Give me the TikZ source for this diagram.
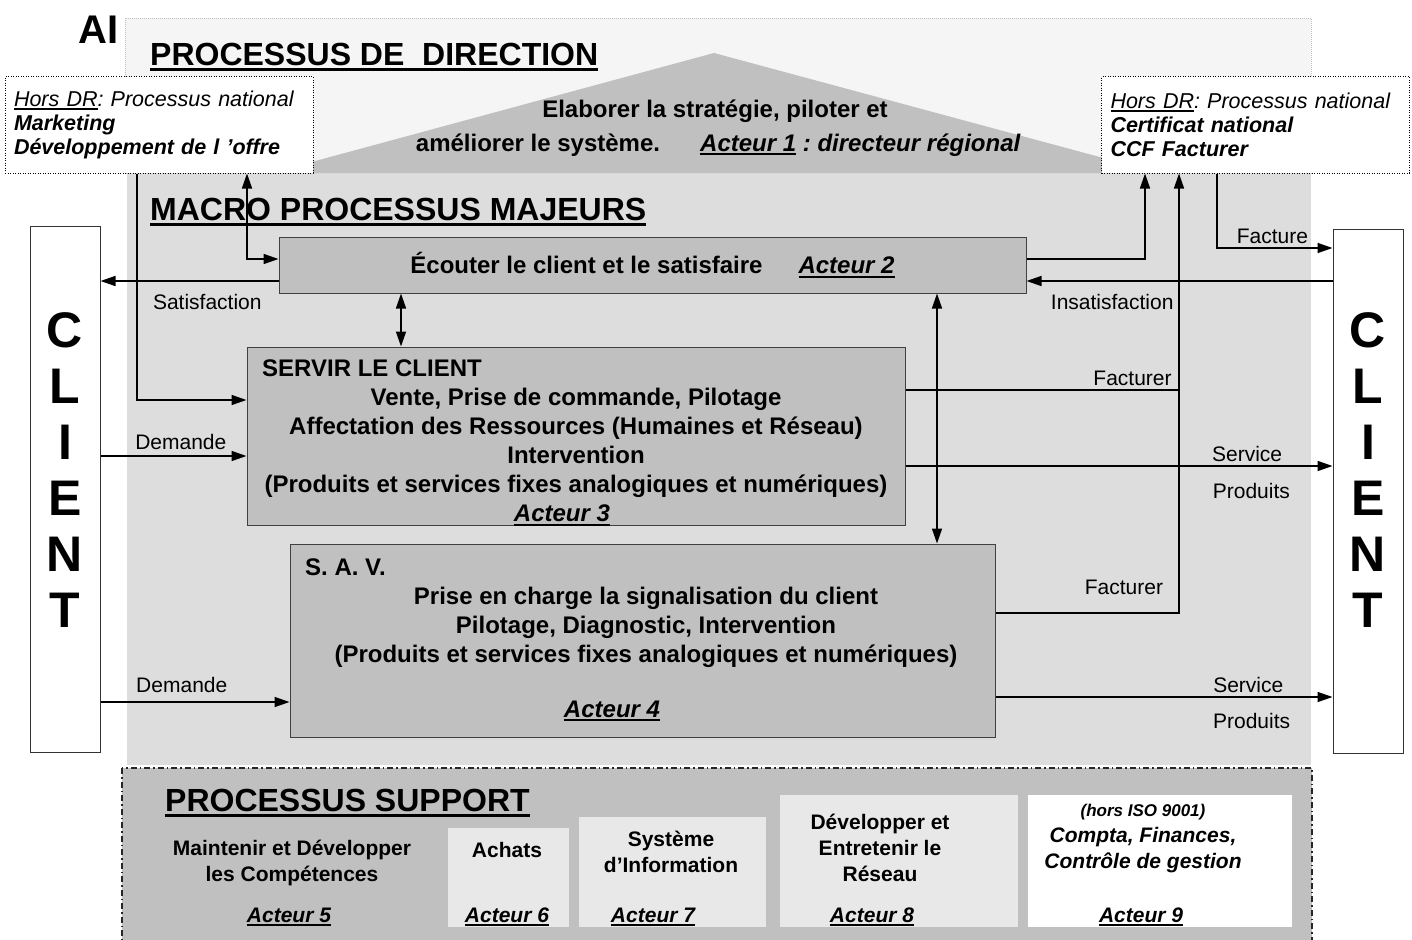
\documentclass[tikz,border=0pt]{standalone}
\usepackage{fontspec}
\setmainfont{Liberation Sans}
\usepackage{xcolor}
\usetikzlibrary{arrows.meta, positioning}

\definecolor{dirbg}{HTML}{F5F5F5}
\definecolor{macrobg}{HTML}{DDDDDD}
\definecolor{procfill}{HTML}{C0C0C0}
\definecolor{suplight}{HTML}{E8E8E8}

\frenchspacing
\newcommand{\ulin}[1]{\setbox0\hbox{#1}\rlap{\rule[-0.16em]{\wd0}{0.08em}}\box0}

\begin{document}
\begin{tikzpicture}[
        x=1pt, y=-1pt,
        procbox/.style={draw=black!75, line width=1pt, fill=procfill, inner sep=0pt},
        hdrbox/.style={draw=black, line width=1pt, dash pattern=on 1pt off 1.5pt, fill=white, align=left, text width=290pt, inner xsep=9pt, minimum height=96pt, font=\fontsize{21.5}{24}\selectfont\itshape},
        clientbox/.style={draw=black!80, line width=1pt, fill=white, minimum width=70pt},
        clienttxt/.style={align=center, inner sep=0pt, font=\fontsize{50}{56}\selectfont\bfseries},
        btxt/.style={align=center, inner sep=0pt, font=\fontsize{24}{29}\selectfont\bfseries},
        bitxt/.style={inner sep=0pt, font=\fontsize{24}{29}\selectfont\bfseries\itshape},
        stxt/.style={align=center, inner sep=0pt, font=\fontsize{21}{26}\selectfont\bfseries},
        sitxt/.style={align=center, inner sep=0pt, font=\fontsize{21}{26}\selectfont\bfseries\itshape},
        supbox/.style={fill=suplight, inner sep=0pt},
        title/.style={anchor=west, inner sep=0pt, font=\fontsize{32}{36}\selectfont\bfseries},
        lbl/.style={font=\fontsize{21}{24}\selectfont},
        link/.style={line width=1.5pt},
        arrow/.style={line width=1.5pt, -{Triangle[length=15pt,width=10pt]}},
        dblarrow/.style={line width=1.5pt, {Triangle[length=15pt,width=10pt]}-{Triangle[length=15pt,width=10pt]}}
    ]
    \useasboundingbox (0,0) rectangle (1412,939);

    % Backgrounds
    \draw[black!25, dash pattern=on 1pt off 1pt, fill=dirbg] (125,18) rectangle (1311,173);
    \fill[macrobg] (127,173) rectangle (1311,765);
    \fill[procfill] (271,173) -- (714,53) -- (1159,173) -- cycle;
    \draw[black!85, line width=1.2pt, dash pattern=on 6pt off 3pt on 1.5pt off 3pt, fill=procfill] (122,768) rectangle (1312,942);

    % Titles
    \node[title, font=\fontsize{40}{44}\selectfont\bfseries] (ai) at (78,30) {AI};
    \node[title] (dirtitle) at (150,57) {\ulin{PROCESSUS DE\ \ DIRECTION}};
    \node[title] (macrotitle) at (150,212) {\ulin{MACRO PROCESSUS MAJEURS}};
    \node[title] (suptitle) at (165,803) {\ulin{PROCESSUS SUPPORT}};

    % Direction
    \node[btxt] (elab) at (715,111) {Elaborer la stratégie, piloter et};
    \node[btxt] (amel) at (538,145) {améliorer le système.};
    \node[bitxt, anchor=west] (act1) at (700,145) {\ulin{Acteur 1}\ : directeur régional};
    \node[hdrbox] (hdrl) at (159,125) {\ulin{Hors DR}: Processus national\\\textbf{Marketing}\\\textbf{Développement de l ’offre}};
    \node[hdrbox] (hdrr) at (1255.5,125) {\ulin{Hors DR}: Processus national\\\textbf{Certificat national}\\\textbf{CCF Facturer}};

    % Clients
    \node[clientbox, minimum height=526pt] (clientL) at (65,489) {};
    \node[clienttxt] (clientLtxt) at (65,470) {C\\L\\I\\E\\N\\T};
    \node[clientbox, minimum height=524pt] (clientR) at (1368,491) {};
    \node[clienttxt] (clientRtxt) at (1368,470) {C\\L\\I\\E\\N\\T};

    % Macro processus
    \node[procbox, minimum width=747pt, minimum height=56pt, font=\fontsize{24}{29}\selectfont\bfseries] (ecoute) at (652.5,265) {Écouter le client et le satisfaire\hspace{36pt}{\itshape\ulin{Acteur 2}}};
    \node[procbox, minimum width=658pt, minimum height=178pt] (servir) at (576,436) {};
    \node[btxt, anchor=west] (servtitle) at (262,368) {SERVIR LE CLIENT};
    \node[btxt] (servtxt) at (576,457) {Vente, Prise de commande, Pilotage\\Affectation des Ressources (Humaines et Réseau)\\Intervention\\(Produits et services fixes analogiques et numériques)\\{\itshape\ulin{Acteur 3}}\hspace*{28pt}};
    \node[procbox, minimum width=705pt, minimum height=193pt] (sav) at (642.5,640.5) {};
    \node[btxt, anchor=west] (savtitle) at (305,567) {S. A. V.};
    \node[btxt] (savtxt) at (646,627) {Prise en charge la signalisation du client\\Pilotage, Diagnostic, Intervention\\(Produits et services fixes analogiques et numériques)};
    \node[bitxt] (act4) at (612,711) {\ulin{Acteur 4}};

    % Support
    \node[supbox, minimum width=121pt, minimum height=99pt] (achatbox) at (508.5,877.5) {};
    \node[supbox, minimum width=187pt, minimum height=110pt] (sibox) at (672.5,872) {};
    \node[supbox, minimum width=238pt, minimum height=132pt] (resbox) at (899,861) {};
    \node[supbox, fill=white, minimum width=264pt, minimum height=132pt] (comptabox) at (1160,861) {};
    \node[stxt] (maint) at (292,863) {Maintenir et Développer\\les Compétences};
    \node[sitxt] (act5) at (289,917) {\ulin{Acteur 5}};
    \node[stxt] (achat) at (507,850) {Achats};
    \node[sitxt] (act6) at (507,917) {\ulin{Acteur 6}};
    \node[stxt] (sysinf) at (671,852) {Système\\d’Information};
    \node[sitxt] (act7) at (653,917) {\ulin{Acteur 7}};
    \node[stxt] (devres) at (880,848) {Développer et\\Entretenir le\\Réseau};
    \node[sitxt] (act8) at (872,917) {\ulin{Acteur 8}};
    \node[sitxt] (compta) at (1143,839) {{\fontsize{17}{20}\selectfont (hors ISO 9001)}\\Compta, Finances,\\Contrôle de gestion};
    \node[sitxt] (act9) at (1141,917) {\ulin{Acteur 9}};

    % Arrows
    \coordinate (hl) at (247,259);
    \coordinate (mk) at (137,400);
    \coordinate (sat) at (0,281);
    \coordinate (es) at (401,0);
    \coordinate (ev) at (937,0);
    \coordinate (ed) at (1145,259);
    \coordinate (fv) at (1179,613);
    \coordinate (fs) at (1179,390);
    \coordinate (fa) at (1217,248);
    \coordinate (d1) at (0,456);
    \coordinate (s1) at (0,466);
    \coordinate (d2) at (0,702);
    \coordinate (s2) at (0,697);

    \draw[dblarrow] (hdrl.south -| hl) |- (ecoute.west |- hl);
    \draw[arrow] (hdrl.south -| mk) |- (servir.west |- mk);
    \draw[arrow] (ecoute.west |- sat) -- node[lbl, below=9pt, pos=0.4] {Satisfaction} (clientL.east |- sat);
    \draw[arrow] (clientR.west |- sat) -- node[lbl, below=9pt, pos=0.72] {Insatisfaction} (ecoute.east |- sat);
    \draw[dblarrow] (ecoute.south -| es) -- (servir.north -| es);
    \draw[dblarrow] (ecoute.south -| ev) -- (sav.north -| ev);
    \draw[arrow] (ecoute.east |- ed) -| (hdrr.south -| ed);
    \draw[arrow] (sav.east |- fv) -- node[lbl, above=14pt, pos=0.7] {Facturer} (fv) -- (hdrr.south -| fv);
    \draw[link] (servir.east |- fs) -- node[lbl, above, pos=0.83] {Facturer} (fs);
    \draw[arrow] (hdrr.south -| fa) |- node[lbl, above, pos=0.74] {Facture} (clientR.west |- fa);
    \draw[arrow] (clientL.east |- d1) -- node[lbl, above=2pt, pos=0.55] {Demande} (servir.west |- d1);
    \draw[arrow] (servir.east |- s1) -- node[lbl, above, pos=0.8] {Service} node[lbl, below=13pt, pos=0.81] {Produits} (clientR.west |- s1);
    \draw[arrow] (clientL.east |- d2) -- node[lbl, above=5pt, pos=0.43] {Demande} (sav.west |- d2);
    \draw[arrow] (sav.east |- s2) -- node[lbl, above, pos=0.75] {Service} node[lbl, below=12pt, pos=0.76] {Produits} (clientR.west |- s2);

\end{tikzpicture}
\end{document}
